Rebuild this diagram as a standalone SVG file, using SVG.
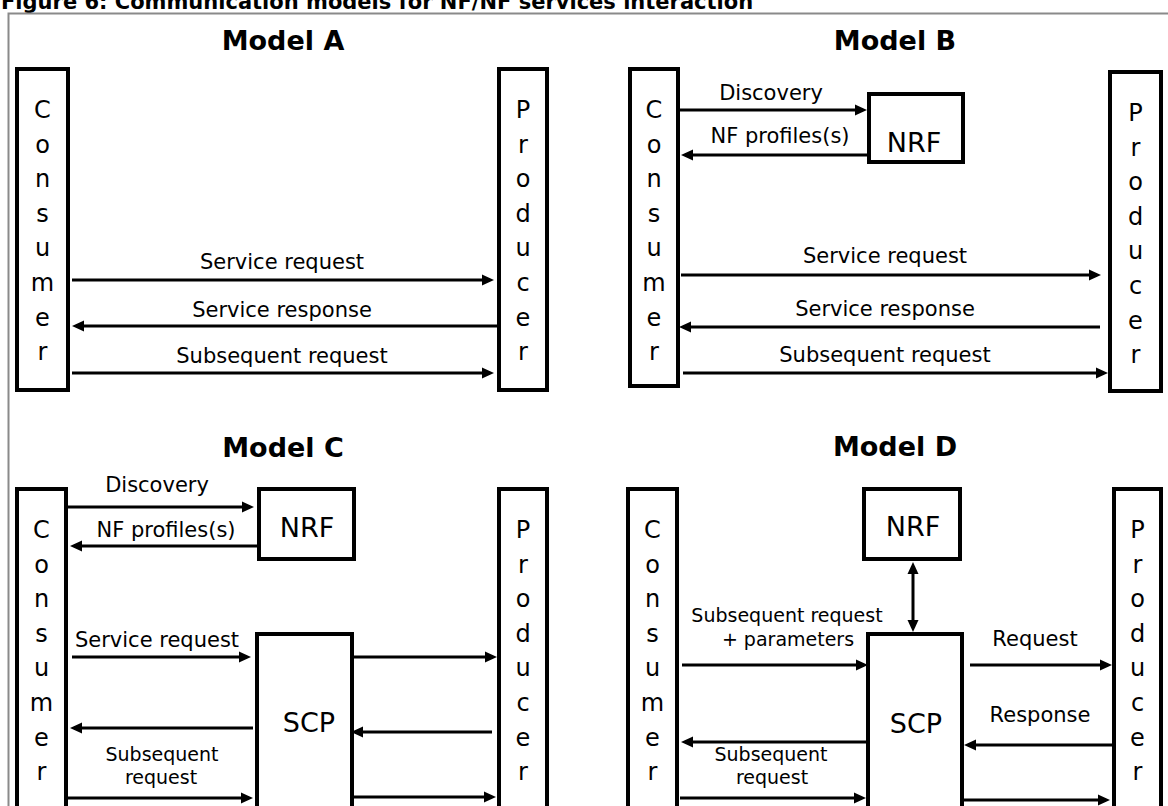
<svg xmlns="http://www.w3.org/2000/svg" width="1168" height="806" viewBox="0 0 1168 806">
  <style>
    text { font-family: "DejaVu Sans", Verdana, sans-serif; fill: #000; }
    .box { fill: #fff; stroke: #000; stroke-width: 4; }
    .frame { fill: none; stroke: #8a8a8a; stroke-width: 2; }
    .lbl { font-size: 21px; text-anchor: middle; }
    .sm { font-size: 19px; text-anchor: middle; }
    .ltr { font-size: 24px; text-anchor: middle; }
    .nm { font-size: 27px; text-anchor: middle; }
    .ttl { font-size: 27px; font-weight: bold; text-anchor: middle; }
    .cap { font-size: 21px; font-weight: bold; }
    .arr { stroke: #000; stroke-width: 3; fill: none; marker-end: url(#ah); }
    .arr2 { stroke: #000; stroke-width: 3; fill: none; marker-end: url(#ah); marker-start: url(#ah); }
  </style>
  <defs>
    <marker id="ah" markerUnits="userSpaceOnUse" markerWidth="13" markerHeight="12" refX="8" refY="6" orient="auto-start-reverse">
      <path d="M0,0.5 L12,6 L0,11.5 z" fill="#000"/>
    </marker>
  </defs>

  <rect width="1168" height="806" fill="#fff"/>
  <text class="cap" x="1" y="9">Figure 6: Communication models for NF/NF services interaction</text>
  <rect class="frame" x="8.5" y="13.5" width="1300" height="1000"/>

  <!-- section headings -->
  <g id="headings">
    <text class="ttl" x="283" y="50">Model A</text>
    <text class="ttl" x="895" y="50">Model B</text>
    <text class="ttl" x="283" y="457">Model C</text>
    <text class="ttl" x="895" y="456">Model D</text>
  </g>

  <!-- ===== Model A ===== -->
  <g id="a-consumer">
    <rect class="box" x="17" y="69" width="51" height="321"/>
    <text class="ltr"><tspan x="42.5" y="118">C</tspan><tspan x="42.5" y="152.6">o</tspan><tspan x="42.5" y="187.2">n</tspan><tspan x="42.5" y="221.8">s</tspan><tspan x="42.5" y="256.4">u</tspan><tspan x="42.5" y="291">m</tspan><tspan x="42.5" y="325.6">e</tspan><tspan x="42.5" y="360.2">r</tspan></text>
  </g>
  <g id="a-producer">
    <rect class="box" x="499" y="69" width="48" height="321"/>
    <text class="ltr"><tspan x="523" y="118">P</tspan><tspan x="523" y="152.6">r</tspan><tspan x="523" y="187.2">o</tspan><tspan x="523" y="221.8">d</tspan><tspan x="523" y="256.4">u</tspan><tspan x="523" y="291">c</tspan><tspan x="523" y="325.6">e</tspan><tspan x="523" y="360.2">r</tspan></text>
  </g>

  <!-- ===== Model B ===== -->
  <g id="b-consumer">
    <rect class="box" x="630" y="69" width="48" height="317"/>
    <text class="ltr"><tspan x="654" y="118">C</tspan><tspan x="654" y="152.6">o</tspan><tspan x="654" y="187.2">n</tspan><tspan x="654" y="221.8">s</tspan><tspan x="654" y="256.4">u</tspan><tspan x="654" y="291">m</tspan><tspan x="654" y="325.6">e</tspan><tspan x="654" y="360.2">r</tspan></text>
  </g>
  <g id="b-nrf">
    <rect class="box" x="869" y="94" width="94" height="68"/>
    <text class="nm" x="914" y="152">NRF</text>
  </g>
  <g id="b-producer">
    <rect class="box" x="1110" y="72" width="51" height="319"/>
    <text class="ltr"><tspan x="1135.5" y="121">P</tspan><tspan x="1135.5" y="155.6">r</tspan><tspan x="1135.5" y="190.2">o</tspan><tspan x="1135.5" y="224.8">d</tspan><tspan x="1135.5" y="259.4">u</tspan><tspan x="1135.5" y="294">c</tspan><tspan x="1135.5" y="328.6">e</tspan><tspan x="1135.5" y="363.2">r</tspan></text>
  </g>

  <!-- ===== Model C ===== -->
  <g id="c-consumer">
    <rect class="box" x="17" y="489" width="49" height="400"/>
    <text class="ltr"><tspan x="41.5" y="538">C</tspan><tspan x="41.5" y="572.6">o</tspan><tspan x="41.5" y="607.2">n</tspan><tspan x="41.5" y="641.8">s</tspan><tspan x="41.5" y="676.4">u</tspan><tspan x="41.5" y="711">m</tspan><tspan x="41.5" y="745.6">e</tspan><tspan x="41.5" y="780.2">r</tspan></text>
  </g>
  <g id="c-nrf">
    <rect class="box" x="259" y="489" width="95" height="70"/>
    <text class="nm" x="307" y="537">NRF</text>
  </g>
  <g id="c-scp">
    <rect class="box" x="257" y="634" width="95" height="300"/>
    <text class="nm" x="309" y="732">SCP</text>
  </g>
  <g id="c-producer">
    <rect class="box" x="499" y="489" width="48" height="400"/>
    <text class="ltr"><tspan x="523" y="538">P</tspan><tspan x="523" y="572.6">r</tspan><tspan x="523" y="607.2">o</tspan><tspan x="523" y="641.8">d</tspan><tspan x="523" y="676.4">u</tspan><tspan x="523" y="711">c</tspan><tspan x="523" y="745.6">e</tspan><tspan x="523" y="780.2">r</tspan></text>
  </g>

  <!-- ===== Model D ===== -->
  <g id="d-consumer">
    <rect class="box" x="628" y="489" width="49" height="400"/>
    <text class="ltr"><tspan x="652.5" y="538">C</tspan><tspan x="652.5" y="572.6">o</tspan><tspan x="652.5" y="607.2">n</tspan><tspan x="652.5" y="641.8">s</tspan><tspan x="652.5" y="676.4">u</tspan><tspan x="652.5" y="711">m</tspan><tspan x="652.5" y="745.6">e</tspan><tspan x="652.5" y="780.2">r</tspan></text>
  </g>
  <g id="d-nrf">
    <rect class="box" x="864" y="489" width="96" height="70"/>
    <text class="nm" x="913" y="536">NRF</text>
  </g>
  <g id="d-scp">
    <rect class="box" x="868" y="634" width="94" height="300"/>
    <text class="nm" x="916" y="733">SCP</text>
  </g>
  <g id="d-producer">
    <rect class="box" x="1114" y="489" width="47" height="400"/>
    <text class="ltr"><tspan x="1137.5" y="538">P</tspan><tspan x="1137.5" y="572.6">r</tspan><tspan x="1137.5" y="607.2">o</tspan><tspan x="1137.5" y="641.8">d</tspan><tspan x="1137.5" y="676.4">u</tspan><tspan x="1137.5" y="711">c</tspan><tspan x="1137.5" y="745.6">e</tspan><tspan x="1137.5" y="780.2">r</tspan></text>
  </g>

  <!-- message arrows and their labels -->
  <g id="connectors">
    <!-- Model A -->
    <line class="arr" x1="72" y1="280" x2="490" y2="280"/>
    <text class="lbl" x="282" y="269">Service request</text>
    <line class="arr" x1="497" y1="326" x2="76" y2="326"/>
    <text class="lbl" x="282" y="317">Service response</text>
    <line class="arr" x1="72" y1="373" x2="490" y2="373"/>
    <text class="lbl" x="282" y="363">Subsequent request</text>

    <!-- Model B -->
    <line class="arr" x1="680" y1="110" x2="863" y2="110"/>
    <text class="lbl" x="771" y="100">Discovery</text>
    <line class="arr" x1="867" y1="155" x2="685" y2="155"/>
    <text class="lbl" x="780" y="143">NF profiles(s)</text>
    <line class="arr" x1="681" y1="275" x2="1097" y2="275"/>
    <text class="lbl" x="885" y="263">Service request</text>
    <line class="arr" x1="1100" y1="327" x2="683" y2="327"/>
    <text class="lbl" x="885" y="316">Service response</text>
    <line class="arr" x1="683" y1="373" x2="1104" y2="373"/>
    <text class="lbl" x="885" y="362">Subsequent request</text>

    <!-- Model C -->
    <line class="arr" x1="68" y1="507" x2="250" y2="507"/>
    <text class="lbl" x="157" y="492">Discovery</text>
    <line class="arr" x1="257" y1="546" x2="74" y2="546"/>
    <text class="lbl" x="166" y="537">NF profiles(s)</text>
    <line class="arr" x1="72" y1="657" x2="247" y2="657"/>
    <text class="lbl" x="157" y="647">Service request</text>
    <line class="arr" x1="354" y1="657" x2="493" y2="657"/>
    <line class="arr" x1="492" y1="732" x2="355" y2="732"/>
    <line class="arr" x1="253" y1="728" x2="74" y2="728"/>
    <text class="sm"><tspan x="162" y="761">Subsequent</tspan><tspan x="161" y="784">request</tspan></text>
    <line class="arr" x1="68" y1="798" x2="249" y2="798"/>
    <line class="arr" x1="354" y1="797" x2="492" y2="797"/>

    <!-- Model D -->
    <text class="sm"><tspan x="787" y="622">Subsequent request</tspan><tspan x="788" y="646">+ parameters</tspan></text>
    <line class="arr" x1="682" y1="665" x2="864" y2="665"/>
    <line class="arr2" x1="913" y1="566" x2="913" y2="628"/>
    <line class="arr" x1="970" y1="665" x2="1108" y2="665"/>
    <text class="lbl" x="1035" y="646">Request</text>
    <line class="arr" x1="1113" y1="745" x2="968" y2="745"/>
    <text class="lbl" x="1040" y="722">Response</text>
    <line class="arr" x1="866" y1="742" x2="685" y2="742"/>
    <text class="sm"><tspan x="771" y="761">Subsequent</tspan><tspan x="772" y="784">request</tspan></text>
    <line class="arr" x1="680" y1="798" x2="862" y2="798"/>
    <line class="arr" x1="964" y1="800" x2="1106" y2="800"/>
  </g>
</svg>
